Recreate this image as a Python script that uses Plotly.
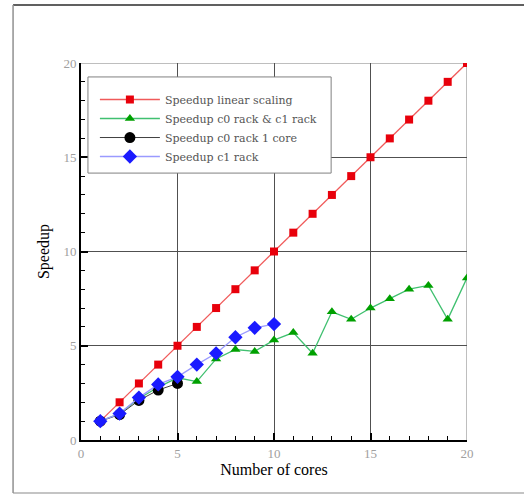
import plotly.graph_objects as go

cores = list(range(1, 21))
linear = [float(c) for c in cores]
green_x = list(range(1, 21))
green_y = [1.0, 1.4, 2.2, 2.8, 3.3, 3.1, 4.3, 4.8, 4.7, 5.3, 5.7, 4.6, 6.8, 6.4, 7.0, 7.5, 8.0, 8.2, 6.4, 8.6]
black_x = [1, 2, 3, 4, 5]
black_y = [1.0, 1.35, 2.1, 2.65, 3.0]
blue_x = list(range(1, 11))
blue_y = [1.0, 1.4, 2.25, 2.95, 3.35, 4.0, 4.6, 5.45, 5.95, 6.15]

names = ["Speedup linear scaling", "Speedup c0 rack & c1 rack", "Speedup c0 rack 1 core", "Speedup c1 rack"]

SERIF = "Liberation Serif, Times New Roman, serif"

fig = go.Figure()
fig.add_trace(go.Scatter(x=cores, y=linear, name=names[0], mode="lines+markers",
                         line=dict(color="#f05a5a", width=1.3),
                         marker=dict(symbol="square", size=8, color="#e8000b")))
fig.add_trace(go.Scatter(x=green_x, y=green_y, name=names[1], mode="lines+markers",
                         line=dict(color="#40c070", width=1.3),
                         marker=dict(symbol="triangle-up", size=9, color="#00a000")))
fig.add_trace(go.Scatter(x=black_x, y=black_y, name=names[2], mode="lines+markers",
                         line=dict(color="#404040", width=1),
                         marker=dict(symbol="circle", size=11, color="#000000")))
fig.add_trace(go.Scatter(x=blue_x, y=blue_y, name=names[3], mode="lines+markers",
                         line=dict(color="#9a9aff", width=1.3),
                         marker=dict(symbol="diamond", size=11, color="#1a1aff")))

axis_common = dict(
    range=[0, 20], dtick=5, tick0=0, showgrid=True, gridcolor="#505050", gridwidth=1,
    showline=True, linecolor="#000000", linewidth=2, ticks="inside", ticklen=7,
    tickwidth=2, tickcolor="#000000", zeroline=False, automargin=False,
    tickfont=dict(family=SERIF, size=13, color="#a0a0a0"),
    minor=dict(dtick=1, ticks="inside", ticklen=4, tickcolor="#000000", tickwidth=1, showgrid=False),
)

fig.update_layout(
    width=524, height=495,
    margin=dict(l=81, r=57, t=63, b=55),
    paper_bgcolor="white", plot_bgcolor="white",
    xaxis=dict(axis_common, title=dict(text="Number of cores", font=dict(family=SERIF, size=16, color="#000"), standoff=4)),
    yaxis=dict(axis_common, title=dict(text="Speedup", font=dict(family=SERIF, size=16, color="#000"), standoff=10)),
    legend=dict(x=0.036, y=0.9416, xanchor="left", yanchor="top",
                bgcolor="rgba(0,0,0,0)", borderwidth=0,
                font=dict(family="DejaVu Serif, serif", size=11, color="#555555"),
                itemwidth=60, tracegroupgap=0),
    showlegend=True,
    shapes=[
        dict(type="line", xref="x", yref="y", x0=0, x1=20, y0=20, y1=20, line=dict(color="#a8a8a8", width=1.5), layer="below"),
        dict(type="line", xref="x", yref="y", x0=20, x1=20, y0=0, y1=20, line=dict(color="#a8a8a8", width=1.5), layer="below"),
        dict(type="rect", xref="paper", yref="paper", x0=0.018, x1=0.648, y0=0.708, y1=0.963,
             fillcolor="white", line=dict(color="#808080", width=1), layer="above"),
        dict(type="line", xref="paper", yref="paper", x0=-0.176, x1=1.2, y0=1.154, y1=1.154, line=dict(color="#606060", width=2)),
        dict(type="line", xref="paper", yref="paper", x0=-0.176, x1=1.2, y0=-0.1406, y1=-0.1406, line=dict(color="#b0b0b0", width=1.5)),
        dict(type="line", xref="paper", yref="paper", x0=-0.176, x1=-0.176, y0=-0.1406, y1=1.154, line=dict(color="#909090", width=1.5)),
    ],
)

fig.write_html("out.html", config={"displayModeBar": False},
               post_script="document.body.style.margin='0';")
